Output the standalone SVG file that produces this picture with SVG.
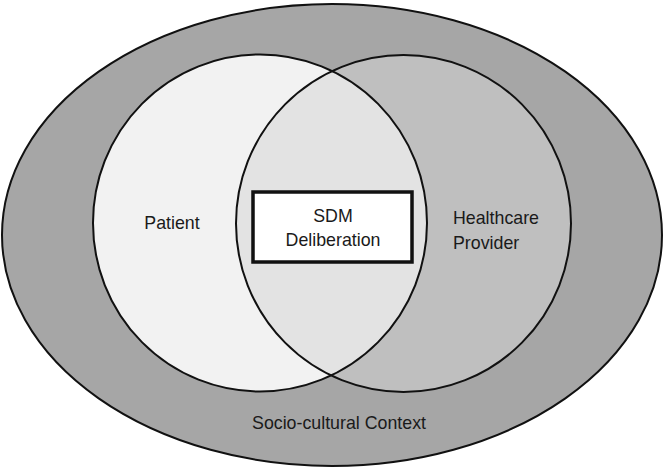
<svg xmlns="http://www.w3.org/2000/svg" width="664" height="468" viewBox="0 0 664 468">
<style>
.ln{stroke:#111;stroke-width:2}
.lbl{font-family:"Liberation Sans",Arial,sans-serif;font-size:17.8px;fill:#1a1a1a}
</style>
<defs>
<clipPath id="clipLeft"><ellipse cx="260" cy="223" rx="167" ry="168.5"/></clipPath>
</defs>
<rect width="664" height="468" fill="#ffffff"/>
<g id="context">
<ellipse cx="332" cy="235" rx="330" ry="231" fill="#a6a6a6" class="ln"/>
<text class="lbl" x="339" y="429" text-anchor="middle">Socio-cultural Context</text>
</g>
<g id="patient">
<ellipse cx="260" cy="223" rx="167" ry="168.5" fill="#f2f2f2"/>
</g>
<g id="provider">
<ellipse cx="403.5" cy="223.5" rx="167.5" ry="168.5" fill="#bfbfbf"/>
</g>
<g id="overlap">
<ellipse cx="403.5" cy="223.5" rx="167.5" ry="168.5" fill="#e3e3e3" clip-path="url(#clipLeft)"/>
</g>
<g id="outlines" fill="none">
<ellipse cx="260" cy="223" rx="167" ry="168.5" class="ln"/>
<ellipse cx="403.5" cy="223.5" rx="167.5" ry="168.5" class="ln"/>
</g>
<g id="labels">
<text class="lbl" x="172" y="229" text-anchor="middle">Patient</text>
<text class="lbl" x="453" y="224">Healthcare</text>
<text class="lbl" x="453" y="249">Provider</text>
</g>
<g id="sdm">
<rect x="253" y="192" width="159" height="70" fill="#ffffff" stroke="#111" stroke-width="3.5"/>
<text class="lbl" x="333" y="222" text-anchor="middle">SDM</text>
<text class="lbl" x="333" y="246" text-anchor="middle">Deliberation</text>
</g>
<g id="connectors"/>
</svg>
